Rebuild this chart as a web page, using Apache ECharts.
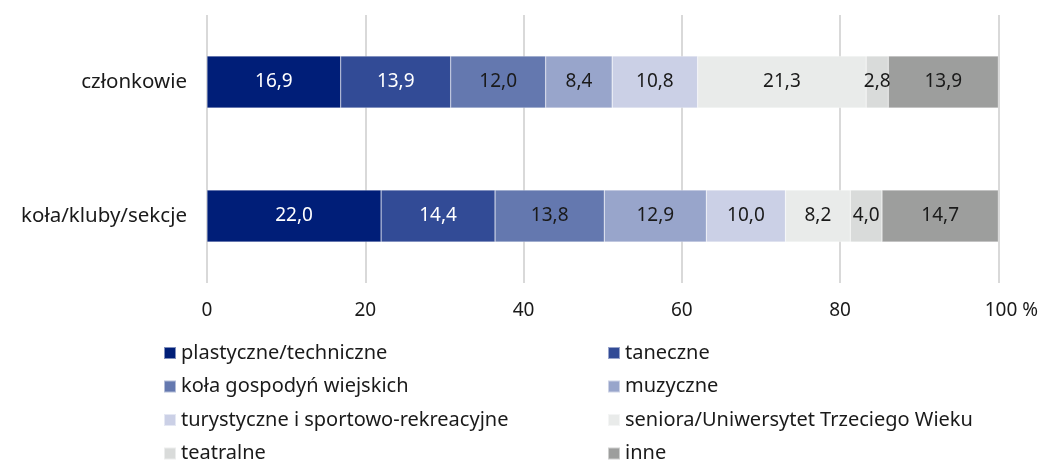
<!DOCTYPE html>
<html><head><meta charset="utf-8">
<script src="https://cdn.jsdelivr.net/npm/echarts@6/dist/echarts.min.js"></script>
<style>html,body{margin:0;padding:0;background:#fff}#c{width:1041px;height:465px}</style>
</head><body><div id="c"></div>
<script>
const categories = ['członkowie', 'koła/kluby/sekcje'];
const seriesNames = ['plastyczne/techniczne','taneczne','koła gospodyń wiejskich','muzyczne','turystyczne i sportowo-rekreacyjne','seniora/Uniwersytet Trzeciego Wieku','teatralne','inne'];
const plastyczne = [16.9, 22.0];
const taneczne = [13.9, 14.4];
const kgw = [12.0, 13.8];
const muzyczne = [8.4, 12.9];
const turystyczne = [10.8, 10.0];
const seniora = [21.3, 8.2];
const teatralne = [2.8, 4.0];
const inne = [13.9, 14.7];
const xTicks = [0, 20, 40, 60, 80, 100];

const values = [plastyczne, taneczne, kgw, muzyczne, turystyczne, seniora, teatralne, inne];
const colors = ['#001e78','#324b96','#6478af','#98a5cb','#cbd0e6','#e9ebea','#d9dbda','#9d9e9d'];
const labelColors = ['#fff','#fff','#1a1a1a','#1a1a1a','#1a1a1a','#1a1a1a','#1a1a1a','#1a1a1a'];
const FONT = 'Noto Sans';

const legendText = { fontSize: 20, color: '#1a1a1a', fontFamily: FONT };
const legendCols = [163, 607];
const legendRowCenters = [353, 386.5, 420, 453.5];
const legends = seriesNames.map((n, i) => ({
  orient: 'horizontal', padding: 0, itemWidth: 12, itemHeight: 12, icon: 'rect',
  left: legendCols[i % 2], top: legendRowCenters[Math.floor(i / 2)] - 10,
  data: [n], textStyle: legendText
}));

const chart = echarts.init(document.getElementById('c'));
chart.setOption({
  animation: false,
  textStyle: { fontFamily: FONT },
  grid: { left: 207, right: 42, top: 15, bottom: 182 },
  xAxis: {
    type: 'value', min: 0, max: 100, interval: 20,
    axisLine: { show: false }, axisTick: { show: false },
    splitLine: { lineStyle: { color: '#d9d9d9', width: 2 } },
    axisLabel: { fontSize: 19, color: '#1a1a1a', margin: 18, fontFamily: FONT,
      formatter: v => v === 100 ? '{p|' + xTicks[5] + ' %}' : String(v),
      rich: { p: { fontSize: 19, color: '#1a1a1a', fontFamily: FONT, padding: [0, 0, 0, 26] } } }
  },
  yAxis: {
    type: 'category', data: categories, inverse: true,
    axisLine: { show: false }, axisTick: { show: false },
    axisLabel: { fontSize: 20.5, color: '#1a1a1a', margin: 20, fontFamily: FONT }
  },
  legend: legends,
  series: seriesNames.map((n, i) => ({
    name: n, type: 'bar', stack: 'total', barWidth: 52,
    data: values[i],
    itemStyle: { color: colors[i], borderColor: 'rgba(255,255,255,0.5)', borderWidth: 0.5 },
    label: { show: true, position: 'inside', color: labelColors[i], fontSize: 19, fontFamily: FONT,
      formatter: p => p.value.toFixed(1).replace('.', ',') }
  }))
});
</script></body></html>
